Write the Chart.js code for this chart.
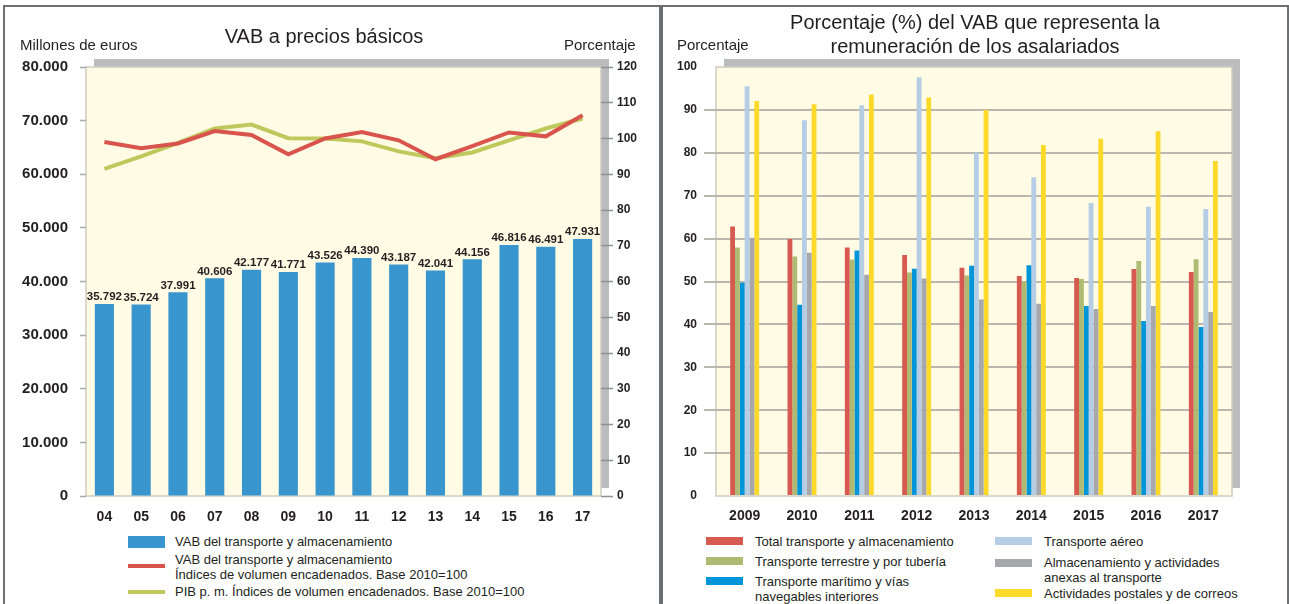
<!DOCTYPE html>
<html lang="es">
<head>
<meta charset="UTF-8">
<title>VAB del transporte y almacenamiento</title>
<script src="https://cdn.jsdelivr.net/npm/chart.js@4.4.1/dist/chart.umd.min.js"></script>
<style>
  body { margin: 0; background: #fff; font-family: 'Liberation Sans', Arial, sans-serif; color: #231f20; }
  #page { position: relative; width: 1289px; height: 604px; overflow: hidden; }
  .panel { position: absolute; top: 5px; height: 640px; border: 2px solid #6d6e71; border-bottom: none; box-sizing: border-box; }
  canvas { position: absolute; top: 0; }
  .txt { position: absolute; white-space: nowrap; }
  .title { font-size: 20px; line-height: 24px; text-align: center; }
  .axis-title { font-size: 15px; line-height: 18px; }
  .leg { position: absolute; font-size: 13px; line-height: 15px; white-space: nowrap; }
  .sw { position: absolute; }
</style>
</head>
<body>
<div id="page">
  <div class="panel" style="left:3px; width:658px;"></div>
  <div class="panel" style="left:661px; width:628px;"></div>

  <canvas id="vabChart" width="660" height="530" style="left:0;"></canvas>
  <canvas id="remChart" width="628" height="530" style="left:661px;"></canvas>

  <div class="txt title" style="left:174px; width:300px; top:24px;">VAB a precios básicos</div>
  <div class="txt axis-title" style="left:20px; top:36px;">Millones de euros</div>
  <div class="txt axis-title" style="left:564px; top:36px;">Porcentaje</div>

  <div class="txt title" style="left:725px; width:500px; top:10px;">Porcentaje (%) del VAB que representa la<br>remuneración de los asalariados</div>
  <div class="txt axis-title" style="left:677px; top:36px;">Porcentaje</div>

  <div id="legendLeft"></div>
  <div id="legendRight"></div>
</div>

<script>
  // ---- datos: VAB a precios básicos ----
  const years = ["04", "05", "06", "07", "08", "09", "10", "11", "12", "13", "14", "15", "16", "17"];
  const vabMillones = [35792, 35724, 37991, 40606, 42177, 41771, 43526, 44390, 43187, 42041, 44156, 46816, 46491, 47931];
  const vabIndice = [99.0, 97.3, 98.6, 102.1, 101.0, 95.6, 100.0, 101.8, 99.5, 94.2, 97.9, 101.7, 100.6, 106.5];
  const pibIndice = [91.5, 95.0, 98.8, 102.8, 103.9, 100.1, 100.0, 99.2, 96.4, 94.5, 96.1, 99.5, 102.8, 105.6];

  const leftAxisTicks = [0, 10000, 20000, 30000, 40000, 50000, 60000, 70000, 80000];
  const rightAxisTicks = [0, 10, 20, 30, 40, 50, 60, 70, 80, 90, 100, 110, 120];

  // ---- datos: remuneración de los asalariados (% del VAB) ----
  const yearsRem = ["2009", "2010", "2011", "2012", "2013", "2014", "2015", "2016", "2017"];
  const remTotal = [62.8, 59.9, 57.9, 56.2, 53.2, 51.3, 50.8, 52.9, 52.2];
  const remTerrestre = [57.9, 55.8, 55.1, 52.1, 51.4, 50.0, 50.6, 54.8, 55.2];
  const remMaritimo = [49.7, 44.6, 57.2, 53.0, 53.7, 53.8, 44.3, 40.8, 39.4];
  const remAereo = [95.5, 87.6, 91.1, 97.6, 80.0, 74.3, 68.3, 67.4, 66.9];
  const remAlmacen = [60.2, 56.7, 51.6, 50.7, 45.8, 44.8, 43.6, 44.3, 42.9];
  const remPostales = [92.1, 91.3, 93.6, 92.9, 90.0, 81.8, 83.3, 85.0, 78.1];

  const labelsLeft = [
    ["VAB del transporte y almacenamiento"],
    ["VAB del transporte y almacenamiento", "Índices de volumen encadenados. Base 2010=100"],
    ["PIB p. m. Índices de volumen encadenados. Base 2010=100"]
  ];
  const labelsRem = [
    ["Total transporte y almacenamiento"],
    ["Transporte terrestre y por tubería"],
    ["Transporte marítimo y vías", "navegables interiores"],
    ["Transporte aéreo"],
    ["Almacenamiento y actividades", "anexas al transporte"],
    ["Actividades postales y de correos"]
  ];

  // colores
  const azul = "#3995cd";
  const rojo = "#d9544c";
  const verde = "#bfc85c";
  const remColors = ["#d65a50", "#afbb72", "#0095d9", "#b6cde6", "#a7a8ab", "#fdd92a"];

  Chart.defaults.font.family = "'Liberation Sans', Arial, sans-serif";
  Chart.defaults.color = "#231f20";

  function miles(v) {
    return String(v).replace(/\B(?=(\d{3})+(?!\d))/g, ".");
  }

  // fondo crema con sombra gris detrás del área del gráfico
  const fondo = {
    id: "fondo",
    beforeDraw(chart) {
      const { ctx, chartArea: a } = chart;
      const w = a.right - a.left, h = a.bottom - a.top;
      ctx.save();
      ctx.fillStyle = "#bbbcbe";
      ctx.fillRect(a.left + 8, a.top - 8, w, h);
      ctx.fillStyle = "#fffbe4";
      ctx.fillRect(a.left, a.top, w, h);
      ctx.strokeStyle = "#cfccc0";
      ctx.lineWidth = 1.5;
      ctx.strokeRect(a.left, a.top, w, h);
      ctx.restore();
    }
  };

  // valores encima de las barras
  const valores = {
    id: "valores",
    afterDatasetsDraw(chart) {
      const ctx = chart.ctx;
      const meta = chart.getDatasetMeta(0);
      ctx.save();
      ctx.font = "bold 11.5px 'Liberation Sans', Arial, sans-serif";
      ctx.fillStyle = "#231f20";
      ctx.textAlign = "center";
      ctx.textBaseline = "bottom";
      meta.data.forEach((bar, i) => {
        ctx.fillText(miles(vabMillones[i]), bar.x, bar.y - 1);
      });
      ctx.restore();
    }
  };

  new Chart(document.getElementById("vabChart"), {
    type: "bar",
    data: {
      labels: years,
      datasets: [
        {
          type: "bar",
          label: labelsLeft[0].join(" "),
          data: vabMillones,
          backgroundColor: azul,
          yAxisID: "y",
          barPercentage: 0.52,
          categoryPercentage: 1,
          order: 2
        },
        {
          type: "line",
          label: labelsLeft[1].join(" "),
          data: vabIndice,
          borderColor: rojo,
          borderWidth: 4,
          pointRadius: 0,
          tension: 0,
          yAxisID: "y1",
          order: 0
        },
        {
          type: "line",
          label: labelsLeft[2].join(" "),
          data: pibIndice,
          borderColor: verde,
          borderWidth: 4,
          pointRadius: 0,
          tension: 0,
          yAxisID: "y1",
          order: 1
        }
      ]
    },
    options: {
      responsive: false,
      animation: false,
      layout: { padding: { top: 67, left: 0, right: 0, bottom: 0 } },
      plugins: { legend: { display: false }, tooltip: { enabled: false } },
      scales: {
        x: {
          grid: { display: false, drawTicks: false },
          border: { display: false },
          ticks: { font: { size: 14, weight: "bold" }, padding: 13 },
          afterFit: s => { s.height = 34; }
        },
        y: {
          position: "left",
          min: 0,
          max: 80000,
          afterBuildTicks: s => { s.ticks = leftAxisTicks.map(v => ({ value: v })); },
          ticks: { font: { size: 15, weight: "bold" }, padding: 12, callback: v => miles(v) },
          grid: { drawOnChartArea: false, tickLength: 6, color: "#a7a9ac", tickWidth: 1.5 },
          border: { display: false },
          afterFit: s => { s.width = 86; }
        },
        y1: {
          position: "right",
          min: 0,
          max: 120,
          afterBuildTicks: s => { s.ticks = rightAxisTicks.map(v => ({ value: v })); },
          ticks: { font: { size: 12, weight: "bold" }, padding: 4 },
          grid: { drawOnChartArea: false, tickLength: 12, color: "#8f9193", tickWidth: 1.5 },
          border: { display: false },
          afterFit: s => { s.width = 59; }
        }
      }
    },
    plugins: [fondo, valores]
  });

  const remSeries = [remTotal, remTerrestre, remMaritimo, remAereo, remAlmacen, remPostales];

  new Chart(document.getElementById("remChart"), {
    type: "bar",
    data: {
      labels: yearsRem,
      datasets: remSeries.map((serie, i) => ({
        label: labelsRem[i].join(" "),
        data: serie,
        backgroundColor: remColors[i],
        barPercentage: 1,
        categoryPercentage: 0.505
      }))
    },
    options: {
      responsive: false,
      animation: false,
      layout: { padding: { top: 67, left: 0, right: 57, bottom: 0 } },
      plugins: { legend: { display: false }, tooltip: { enabled: false } },
      scales: {
        x: {
          grid: { display: false, drawTicks: false },
          border: { display: false },
          ticks: { font: { size: 14, weight: "bold" }, padding: 12 },
          afterFit: s => { s.height = 34; }
        },
        y: {
          min: 0,
          max: 100,
          ticks: { stepSize: 10, font: { size: 12, weight: "bold" }, padding: 7 },
          grid: {
            color: c => (c.tick && (c.tick.value === 0 || c.tick.value === 100)) ? "rgba(0,0,0,0)" : "#b9b7ae",
            lineWidth: 2,
            tickLength: 12
          },
          border: { display: false },
          afterFit: s => { s.width = 55; }
        }
      }
    },
    plugins: [fondo]
  });

  // ---- leyendas ----
  function legendItem(parent, x, y, swatch, color, lines, textX) {
    const sw = document.createElement("div");
    sw.className = "sw";
    sw.style.left = x + "px";
    sw.style.top = swatch.top + "px";
    sw.style.width = swatch.w + "px";
    sw.style.height = swatch.h + "px";
    sw.style.background = color;
    parent.appendChild(sw);
    const t = document.createElement("div");
    t.className = "leg";
    t.style.left = textX + "px";
    t.style.top = y + "px";
    t.innerHTML = lines.join("<br>");
    parent.appendChild(t);
  }

  const ll = document.getElementById("legendLeft");
  legendItem(ll, 128, 534, { top: 536, w: 37, h: 12 }, azul, labelsLeft[0], 175);
  legendItem(ll, 128, 552, { top: 564, w: 37, h: 4 }, rojo, labelsLeft[1], 175);
  legendItem(ll, 128, 584, { top: 590, w: 37, h: 4 }, verde, labelsLeft[2], 175);

  const lr = document.getElementById("legendRight");
  const remLegendPos = [
    { x: 706, tx: 755, y: 534, sw: 537 },
    { x: 706, tx: 755, y: 554, sw: 557 },
    { x: 706, tx: 755, y: 574, sw: 577 },
    { x: 995, tx: 1044, y: 534, sw: 537 },
    { x: 995, tx: 1044, y: 555, sw: 559 },
    { x: 995, tx: 1044, y: 586, sw: 589 }
  ];
  remLegendPos.forEach((p, i) => {
    legendItem(lr, p.x, p.y, { top: p.sw, w: 37, h: 8 }, remColors[i], labelsRem[i], p.tx);
  });
</script>
</body>
</html>
